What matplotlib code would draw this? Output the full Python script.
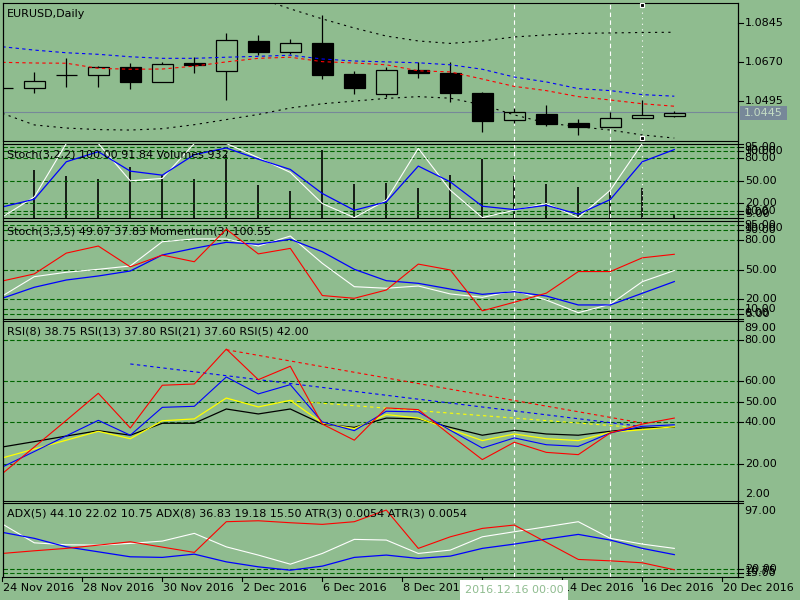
import numpy as np
import matplotlib
matplotlib.use("Agg")
import matplotlib.pyplot as plt
from matplotlib.patches import Rectangle
from matplotlib.lines import Line2D
from matplotlib.transforms import blended_transform_factory as blend

plt.rcParams["font.family"] = ["DejaVu Sans"]

BG = "#8fbc8f"
LEVEL = "#006400"
FS = 8

# ---------------- data ----------------
bars = np.arange(22)

opens = [1.0550, 1.0550, 1.0609, 1.0609, 1.0645, 1.0580, 1.0665, 1.0627, 1.0762, 1.0715, 1.0754,
         1.0615, 1.0526, 1.0631, 1.0621, 1.0529, 1.0407, 1.0435, 1.0395, 1.0378, 1.0416, 1.0427]
highs = [1.0551, 1.0622, 1.0685, 1.0651, 1.0664, 1.0667, 1.0690, 1.0799, 1.0790, 1.0771, 1.0880,
         1.0628, 1.0647, 1.0667, 1.0667, 1.0534, 1.0461, 1.0474, 1.0413, 1.0445, 1.0498, 1.0449]
lows = [1.0549, 1.0531, 1.0558, 1.0558, 1.0546, 1.0580, 1.0621, 1.0499, 1.0700, 1.0705, 1.0592,
        1.0526, 1.0513, 1.0597, 1.0490, 1.0356, 1.0396, 1.0383, 1.0342, 1.0378, 1.0416, 1.0423]
closes = [1.0550, 1.0583, 1.0609, 1.0645, 1.0580, 1.0660, 1.0656, 1.0766, 1.0715, 1.0754, 1.0612,
          1.0553, 1.0633, 1.0621, 1.0531, 1.0405, 1.0443, 1.0392, 1.0378, 1.0417, 1.0429, 1.0438]

ma_blue = [1.0737, 1.0722, 1.0710, 1.0703, 1.0692, 1.0685, 1.0685, 1.0690, 1.0694, 1.0699, 1.0682,
           1.0673, 1.0669, 1.0665, 1.0656, 1.0636, 1.0601, 1.0579, 1.0549, 1.0540, 1.0522, 1.0515]
ma_red = [1.0667, 1.0664, 1.0663, 1.0640, 1.0636, 1.0637, 1.0650, 1.0669, 1.0685, 1.0690, 1.0670,
          1.0664, 1.0656, 1.0629, 1.0624, 1.0592, 1.0559, 1.0540, 1.0513, 1.0498, 1.0481, 1.0470]
band_up = [1.1037, 1.1059, 1.1073, 1.1091, 1.1082, 1.1073, 1.1046, 1.1001, 1.0956, 1.0907, 1.0862,
           1.0821, 1.0785, 1.0763, 1.0752, 1.0763, 1.0781, 1.0790, 1.0797, 1.0799, 1.0801, 1.0802]
band_dn = [1.0438, 1.0386, 1.0372, 1.0365, 1.0363, 1.0369, 1.0387, 1.0410, 1.0433, 1.0462, 1.0481,
           1.0493, 1.0505, 1.0513, 1.0506, 1.0476, 1.0431, 1.0395, 1.0378, 1.0363, 1.0341, 1.0327]
price_now = 1.0445

volumes = [12000, 14900, 13000, 12000, 15700, 13300, 12000, 19500, 10200, 8400, 21100,
           10500, 10800, 9200, 13300, 18300, 13000, 10500, 9500, 8500, 9200, 932]
stoch1_k = [1.3, 28.3, 100, 100, 49.9, 53.1, 100, 100, 81.0, 61.2, 19.4,
            0.5, 23.9, 93.5, 37.3, 0.5, 10.4, 19.4, 0.5, 37.3, 100, 100]
stoch1_d = [14.8, 25.2, 75.5, 89.0, 62.9, 57.5, 85.0, 94.0, 79.0, 65.2, 32.9,
            10.4, 21.6, 69.7, 48.5, 15.8, 11.3, 17.1, 5.0, 24.8, 75.5, 91.84]

stoch2_k = [23.1, 42.8, 47.3, 50.3, 53.7, 78.4, 81.2, 81.2, 74.0, 84.2, 56.4,
            32.6, 31.0, 33.3, 25.2, 21.8, 28.5, 19.0, 6.1, 14.7, 37.7, 49.07]
stoch2_d = [20.8, 32.0, 39.4, 43.5, 48.6, 64.9, 71.7, 77.8, 75.8, 80.9, 68.2,
            50.3, 38.7, 36.0, 30.2, 24.8, 27.5, 23.1, 14.0, 14.0, 25.9, 37.83]
momentum = [99.87, 100.05, 100.58, 100.76, 100.23, 100.53, 100.36, 101.19, 100.56, 100.70, 99.50,
            99.43, 99.64, 100.30, 100.15, 99.11, 99.33, 99.56, 100.11, 100.11, 100.46, 100.55]

rsi5 = [15.1, 28.0, 40.9, 54.0, 37.2, 57.9, 58.5, 75.4, 60.6, 67.1, 39.1,
        31.3, 46.9, 46.1, 33.8, 21.9, 30.3, 25.4, 24.3, 34.8, 39.1, 42.0]
rsi8 = [18.3, 25.8, 33.4, 40.9, 33.7, 47.2, 47.7, 61.9, 53.7, 58.2, 40.1,
        35.9, 45.3, 45.0, 36.1, 27.5, 32.4, 29.1, 28.3, 34.8, 38.0, 38.75]
rsi13 = [22.7, 27.0, 31.3, 35.6, 32.0, 40.7, 41.6, 51.7, 47.4, 50.6, 39.6,
         36.9, 43.7, 42.0, 36.5, 31.1, 34.3, 32.0, 31.1, 35.1, 36.4, 37.8]
rsi21 = [28.0, 30.6, 33.3, 35.9, 33.7, 39.5, 39.5, 46.4, 44.0, 46.4, 39.1,
         37.5, 42.0, 41.6, 37.5, 33.7, 36.1, 34.3, 33.7, 35.6, 37.2, 37.6]
# trend lines drawn on the RSI window: (bar, value) endpoints
tl_red = ([7, 20], [75.1, 39.6])
tl_blue = ([4, 20], [68.2, 37.9])
tl_yellow = ([9, 20], [50.4, 37.2])

adx_white = [72.5, 50.6, 48.3, 47.9, 49.9, 52.6, 61.6, 45.9, 36.3, 25.7, 38.2,
             54.6, 53.8, 38.2, 42.1, 57.6, 63.5, 69.3, 75.2, 55.8, 49.1, 44.10]
adx_blue = [62.8, 55.8, 45.9, 40.1, 34.3, 33.6, 37.4, 28.4, 22.6, 18.7, 23.4,
            33.6, 36.3, 32.4, 35.1, 44.1, 49.1, 55.0, 60.4, 53.8, 44.1, 36.83]
adx_red = [38.2, 41.3, 44.1, 47.9, 51.8, 45.6, 39.4, 75.2, 76.3, 74.0, 72.1,
           75.2, 88.8, 44.1, 57.6, 67.4, 71.3, 51.2, 31.2, 29.6, 27.3, 19.18]

date_pos = [0, 2.5, 5, 7.5, 10, 12.5, 15, 17.5, 20, 22.5]
date_lbl = ["24 Nov 2016", "28 Nov 2016", "30 Nov 2016", "2 Dec 2016", "6 Dec 2016",
            "8 Dec 2016", "12 Dec 2016", "14 Dec 2016", "16 Dec 2016", "20 Dec 2016"]
vlines_dashed = [16, 19]
crosshair_bar = 20

# ---------------- layout helpers ----------------
W, H = 800, 600
X0, X1 = 3, 737.7
XL = ((X0 - 2.3) / 32, (X1 - 2.3) / 32)

fig = plt.figure(figsize=(8, 6), dpi=100, facecolor=BG)


def panel(top, bottom):
    ax = fig.add_axes([X0 / W, 1 - bottom / H, (X1 - X0) / W, (bottom - top) / H])
    ax.set_facecolor(BG)
    ax.set_xlim(*XL)
    ax.set_xticks([])
    ax.set_yticks([])
    for s in ax.spines.values():
        s.set_color("black")
        s.set_linewidth(0.8)
    return ax


def hidden_twin(ax):
    tw = ax.twinx()
    tw.set_xlim(*XL)
    tw.set_xticks([])
    tw.set_yticks([])
    for s in tw.spines.values():
        s.set_visible(False)
    tw.patch.set_visible(False)
    return tw


def right_labels(ax, items, levels=True):
    tr = blend(ax.transAxes, ax.transData)
    tick = 5 / (X1 - X0)
    for v, txt, dy in items:
        ax.plot([1, 1 + tick], [v, v], color="black", lw=0.8, transform=tr, clip_on=False)
        ax.annotate(txt, xy=(1, v), xycoords=tr, xytext=(7, dy), textcoords="offset pixels",
                    va="center", ha="left", fontsize=FS, annotation_clip=False)


def level_lines(ax, vals):
    for v in vals:
        ax.axhline(v, color=LEVEL, lw=0.8, ls=(0, (4, 2)), zorder=0.5)


def title(ax, txt):
    ax.annotate(txt, xy=(0, 1), xycoords="axes fraction", xytext=(4, -11),
                textcoords="offset pixels", va="center", ha="left", fontsize=FS, zorder=10)


def markers(ax):
    for b in vlines_dashed:
        ax.axvline(b, color="white", lw=0.8, ls=(0, (4, 3)), zorder=1)
    ax.axvline(crosshair_bar, color="white", lw=0.8, ls=(0, (1, 4)), zorder=1)


# ---------------- main price window ----------------
ax = panel(3, 141)
ax.set_ylim(1.03138, 1.09334)
ax.axhline(price_now, color="#778899", lw=0.8, zorder=0.6)
markers(ax)
for i in bars:
    o, h, l, c = opens[i], highs[i], lows[i], closes[i]
    ax.vlines(i, l, h, color="black", lw=0.9, zorder=2)
    ax.add_patch(Rectangle((i - 0.33, min(o, c)), 0.66, abs(c - o),
                           facecolor="black" if c < o else BG, edgecolor="black",
                           lw=0.9, zorder=3))
ax.plot(bars, ma_blue, color="#0000ff", lw=0.8, ls=(0, (3, 3)), zorder=4)
ax.plot(bars, ma_red, color="#ff0000", lw=0.8, ls=(0, (3, 3)), zorder=4)
ax.plot(bars, band_up, color="black", lw=0.8, ls=(0, (2, 4)), zorder=4)
ax.plot(bars, band_dn, color="black", lw=0.8, ls=(0, (2, 4)), zorder=4)
ax.plot([crosshair_bar] * 2, [1.09245, 1.03286], "s", ms=3.5, mfc="black", mec="white",
        mew=0.8, clip_on=False, zorder=6)
title(ax, "EURUSD,Daily")
right_labels(ax, [(1.0845, "1.0845", 0), (1.0670, "1.0670", 0), (1.0495, "1.0495", 0)])
fig.patches.append(Rectangle((740 / W, 1 - 120 / H), 47 / W, 14 / H, transform=fig.transFigure,
                             facecolor="#778899", edgecolor="none", zorder=5))
fig.text(763.5 / W, 1 - 113 / H, "1.0445", color="#c4dcc4", ha="center", va="center",
         fontsize=FS, zorder=6)

stoch_lv = [95, 90, 80, 50, 20, 10, 5]
stoch_items = [(v, f"{v:.2f}", 0) for v in stoch_lv] + [(100, "100.00", -7), (0, "0.00", 6)]

# ---------------- Stoch(3,2,2) + volumes ----------------
ax1 = panel(143.5, 218)
axv = ax1.twinx()
axv.set_xlim(*XL)
axv.set_ylim(0, 23100)
axv.set_yticks([])
axv.set_facecolor(BG)
for s in axv.spines.values():
    s.set_visible(False)
axv.set_zorder(ax1.get_zorder() - 1)
ax1.patch.set_visible(False)
axv.vlines(bars, 0, volumes, color="black", lw=1.2)
ax1.set_ylim(0, 100)
level_lines(ax1, stoch_lv)
markers(ax1)
ax1.plot(bars, stoch1_k, color="white", lw=0.8, zorder=3)
ax1.plot(bars, stoch1_d, color="#0000ff", lw=0.9, zorder=3)
title(ax1, "Stoch(3,2,2) 100.00 91.84 Volumes 932")
right_labels(ax1, stoch_items)

# ---------------- Stoch(3,3,5) + Momentum ----------------
ax2 = panel(220.5, 318.7)
ax2.set_ylim(0, 100)
level_lines(ax2, stoch_lv)
markers(ax2)
ax2.plot(bars, stoch2_k, color="white", lw=0.8, zorder=3)
ax2.plot(bars, stoch2_d, color="#0000ff", lw=0.9, zorder=3)
axm = hidden_twin(ax2)
axm.set_ylim(98.91, 101.41)
axm.plot(bars, momentum, color="#ff0000", lw=0.8)
title(ax2, "Stoch(3,3,5) 49.07 37.83 Momentum(3) 100.55")
right_labels(ax2, stoch_items)

# ---------------- RSI ----------------
ax3 = panel(321, 500.7)
ax3.set_ylim(2, 89)
level_lines(ax3, [80, 60, 50, 40, 20])
markers(ax3)
ax3.plot(*tl_red, color="#ff0000", lw=0.8, ls=(0, (3, 3)), zorder=2)
ax3.plot(*tl_blue, color="#0000ff", lw=0.8, ls=(0, (3, 3)), zorder=2)
ax3.plot(*tl_yellow, color="#ffff00", lw=0.8, ls=(0, (3, 3)), zorder=2)
ax3.plot(bars, rsi21, color="black", lw=0.9, zorder=3)
ax3.plot(bars, rsi13, color="#ffff00", lw=0.9, zorder=3)
ax3.plot(bars, rsi8, color="#0000ff", lw=0.8, zorder=3)
ax3.plot(bars, rsi5, color="#ff0000", lw=0.8, zorder=3)
title(ax3, "RSI(8) 38.75 RSI(13) 37.80 RSI(21) 37.60 RSI(5) 42.00")
right_labels(ax3, [(80, "80.00", 0), (60, "60.00", 0), (50, "50.00", 0), (40, "40.00", 0),
                   (20, "20.00", 0), (89, "89.00", -7), (2, "2.00", 7)])

# ---------------- ADX / ATR ----------------
ax4 = panel(503, 577)
ax4.set_ylim(10.75, 97)
level_lines(ax4, [20, 15])
markers(ax4)
ax4.plot(bars, adx_white, color="white", lw=0.8, zorder=3)
ax4.plot(bars, adx_blue, color="#0000ff", lw=0.9, zorder=3)
ax4.plot(bars, adx_red, color="#ff0000", lw=0.8, zorder=3)
title(ax4, "ADX(5) 44.10 22.02 10.75 ADX(8) 36.83 19.18 15.50 ATR(3) 0.0054 ATR(3) 0.0054")
right_labels(ax4, [(20, "20.00", 0), (15, "15.00", 0), (97, "97.00", -8), (10.75, "10.75", 6)])

# date axis under the last window
trd = blend(ax4.transData, ax4.transAxes)
for p, lbl in zip(date_pos, date_lbl):
    ax4.plot([p, p], [0, -4 / 74], color="black", lw=0.8, transform=trd, clip_on=False)
    ax4.annotate(lbl, xy=(p, 0), xycoords=trd, xytext=(1, -11), textcoords="offset pixels",
                 va="center", ha="left", fontsize=FS, annotation_clip=False)

# crosshair date box
fig.patches.append(Rectangle((460 / W, 0), 108 / W, 20 / H, transform=fig.transFigure,
                             facecolor="white", edgecolor="none", zorder=5))
fig.text(514 / W, 1 - 590 / H, "2016.12.16 00:00", color=BG, ha="center", va="center",
         fontsize=FS, zorder=6)

# outer frame lines running through the gaps between windows
fig.add_artist(Line2D([X1 / W] * 2, [1 - 3 / H, 1 - 577 / H], color="black", lw=0.8))
fig.add_artist(Line2D([X0 / W] * 2, [1 - 3 / H, 1 - 577 / H], color="black", lw=0.8))

fig.savefig("out.png", dpi=100, facecolor=BG)
